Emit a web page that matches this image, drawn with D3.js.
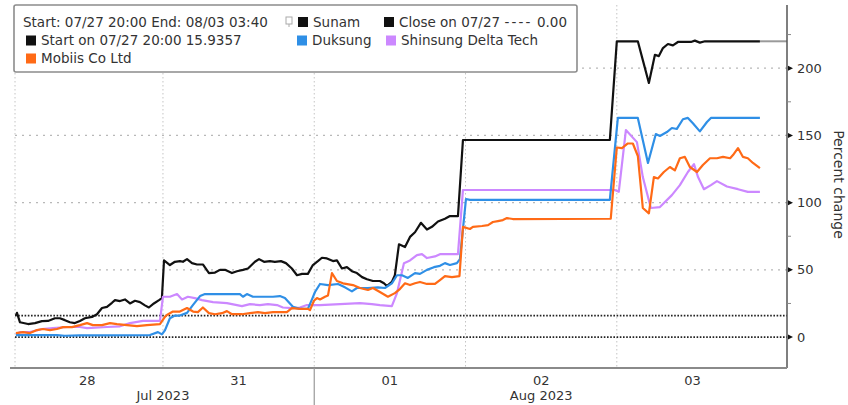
<!DOCTYPE html>
<html>
<head>
<meta charset="utf-8">
<script src="https://cdn.jsdelivr.net/npm/d3@7"></script>
<style>
  html, body { margin: 0; padding: 0; background: #fff; }
  svg { display: block; font-family: "DejaVu Sans", Verdana, sans-serif; }
</style>
</head>
<body>
<svg id="chart" width="848" height="405"></svg>
<script>
// time is in trading days since the chart start (28 Jul session = 0..1)
const dayLabels = ["28", "31", "01", "02", "03"];
const monthLabels = ["Jul 2023", "Aug 2023"];
const monthSpans = [[0, 2], [2, 5]];
const yTicks = [0, 50, 100, 150, 200];
const yMinor = [25, 75, 125, 175, 225];
const startValue = 15.9357;
const closeValue = 0;

const sunam = [[0.028,15.9],[0.035,18],[0.055,11],[0.108,9.7],[0.154,10.4],[0.2,11.9],[0.24,12],[0.286,14],[0.319,14],[0.352,12.6],[0.385,11],[0.418,10.4],[0.451,12],[0.484,14],[0.531,15],[0.564,17],[0.597,21.6],[0.63,22.5],[0.663,25.5],[0.683,27.5],[0.716,26.8],[0.749,28],[0.782,25],[0.815,27],[0.848,26],[0.881,23.6],[0.907,22],[0.94,25],[0.974,27.5],[0.993,29],[1.007,57],[1.046,53.6],[1.079,56],[1.112,56.5],[1.132,56],[1.159,58],[1.192,55],[1.225,54],[1.264,54],[1.304,47.6],[1.344,48],[1.377,50],[1.41,50],[1.456,47.6],[1.489,49],[1.529,50],[1.562,51],[1.608,56],[1.635,58],[1.668,56],[1.707,56.5],[1.74,56],[1.78,56.5],[1.813,55],[1.852,51],[1.886,46],[1.919,47],[1.958,47],[1.991,53.6],[2.024,56.5],[2.051,59],[2.084,58.5],[2.124,56.5],[2.15,57],[2.183,51],[2.216,52],[2.249,49],[2.282,47.6],[2.316,44.6],[2.349,43],[2.388,41.7],[2.434,41.7],[2.461,40],[2.48,38],[2.513,41],[2.533,46],[2.56,69],[2.6,67],[2.633,74.5],[2.666,78],[2.705,85],[2.745,80],[2.778,82],[2.818,86],[2.864,88],[2.897,90],[2.95,90],[2.983,146.6],[3.954,146.6],[4.0,220],[4.139,220],[4.172,206],[4.212,189],[4.252,210],[4.278,209],[4.305,215],[4.338,218],[4.371,217],[4.404,219.5],[4.49,219.5],[4.516,220.5],[4.549,219],[4.583,220],[4.946,220]];

const duksung = [[0.028,1.5],[0.3,1.5],[0.35,1],[0.45,1.2],[0.914,1.5],[0.967,3.7],[0.993,2],[1.013,5],[1.046,14],[1.079,16],[1.112,16],[1.159,18],[1.199,24],[1.245,30.5],[1.278,32],[1.509,32],[1.529,30],[1.555,32],[1.595,30],[1.727,30],[1.773,30.5],[1.806,29],[1.859,22.5],[1.905,21],[1.958,21],[1.985,28],[2.005,33.5],[2.038,39.5],[2.091,38.7],[2.157,39.5],[2.203,37],[2.249,34],[2.282,36.5],[2.355,36.5],[2.421,37],[2.467,36.5],[2.513,40],[2.547,46],[2.58,46],[2.619,44],[2.666,47.6],[2.699,47],[2.745,50],[2.791,52],[2.831,53],[2.864,55],[2.897,53.6],[2.943,55],[2.963,58],[3.003,102.7],[3.029,102],[3.954,102],[4.007,163],[4.139,163],[4.206,129.5],[4.258,151],[4.285,149.6],[4.331,152.5],[4.364,155.5],[4.397,154.8],[4.437,162],[4.47,163],[4.503,159],[4.549,153],[4.596,160],[4.622,163],[4.946,163]];

const shinsung = [[0.028,2],[0.055,3.7],[0.121,3.7],[0.2,6],[0.273,6.7],[0.366,7.5],[0.451,7.5],[0.498,6.7],[0.63,7.5],[0.716,8],[0.782,10.4],[0.868,12],[0.98,12],[1.0,30],[1.046,30],[1.093,32],[1.126,28],[1.165,30],[1.211,29],[1.258,27.5],[1.331,26],[1.423,25.3],[1.522,23],[1.575,24.5],[1.641,23.8],[1.694,24.5],[1.754,23.8],[1.793,22],[1.852,21.6],[1.905,22],[1.952,23.8],[2.038,23.8],[2.17,24.5],[2.302,25.3],[2.381,24.5],[2.434,23.8],[2.513,23],[2.547,32.7],[2.593,55],[2.633,57],[2.679,61],[2.712,61.7],[2.745,58.8],[2.798,60],[2.831,61.7],[2.95,61.7],[2.983,109.4],[3.987,109.4],[4.013,108],[4.06,154],[4.133,145],[4.172,119],[4.225,96],[4.285,96.7],[4.364,105.6],[4.417,113],[4.47,122.8],[4.51,128.7],[4.537,119],[4.576,110],[4.622,113],[4.662,116],[4.728,112],[4.801,110],[4.866,108],[4.946,108]];

const mobiis = [[0.028,3],[0.075,3.7],[0.121,3],[0.167,5.2],[0.207,6],[0.253,5.2],[0.299,6],[0.339,7.4],[0.399,7.4],[0.451,8.9],[0.498,10.4],[0.537,8.9],[0.597,8.9],[0.65,10.4],[0.696,9.7],[0.762,8.9],[0.828,8.2],[0.894,8.9],[0.98,9.7],[1.013,15],[1.026,16.4],[1.066,19],[1.112,19],[1.159,21.6],[1.199,19],[1.231,18.6],[1.264,22],[1.304,17.8],[1.344,17],[1.39,17.8],[1.423,19.3],[1.456,17],[1.522,17],[1.575,17.8],[1.628,18.6],[1.674,17.8],[1.727,18.6],[1.819,18.6],[1.852,21.6],[1.905,21],[1.958,21],[1.972,20],[1.998,27],[2.018,29],[2.038,28],[2.071,30],[2.091,31],[2.117,47.6],[2.15,41.7],[2.19,40],[2.256,38.7],[2.302,36.5],[2.355,35],[2.388,36.5],[2.434,33.5],[2.487,30],[2.533,32.7],[2.566,35.7],[2.6,40],[2.633,38.7],[2.666,40],[2.699,41],[2.745,39.5],[2.798,39.5],[2.831,42.4],[2.864,45.4],[2.91,44.6],[2.96,45.4],[2.983,82],[3.029,80.4],[3.049,82],[3.109,82.6],[3.149,83.3],[3.181,85.6],[3.214,86.3],[3.247,87],[3.274,88.5],[3.313,87.8],[3.96,88],[4.0,141],[4.034,140.6],[4.073,144],[4.106,144],[4.139,134.7],[4.172,96],[4.212,92],[4.245,119],[4.272,118],[4.311,122.8],[4.351,126.5],[4.384,124],[4.417,133],[4.45,134],[4.483,126.5],[4.53,122.8],[4.569,128],[4.616,133],[4.662,133],[4.702,134],[4.749,133],[4.768,135.4],[4.801,140.6],[4.834,134],[4.866,133],[4.9,129.5],[4.946,125.7]];

const series = [
  { name: "Sunam", color: "#111111", data: sunam },
  { name: "Shinsung Delta Tech", color: "#cc88ff", data: shinsung },
  { name: "Duksung", color: "#2f8fe6", data: duksung },
  { name: "Mobiis Co Ltd", color: "#ff6a16", data: mobiis },
];

const svg = d3.select("#chart");
const plotL = 15, plotR = 787, plotT = 5, plotB = 368;

const x = d3.scaleLinear().domain([0.022, 5.125]).range([plotL, plotR]);
const y = d3.scaleLinear().domain([-23, 247]).range([plotB, plotT]);

// gridlines
svg.append("g")
  .selectAll("line")
  .data(yTicks.filter((d) => d > 0))
  .enter()
  .append("line")
  .attr("x1", plotL).attr("x2", plotR)
  .attr("y1", (d) => y(d)).attr("y2", (d) => y(d))
  .attr("stroke", "#b8b8b8")
  .attr("stroke-width", 1.2)
  .attr("stroke-dasharray", "2,5");

svg.append("g")
  .selectAll("line")
  .data([0.022, 1, 2, 3, 4])
  .enter()
  .append("line")
  .attr("x1", (d) => x(d)).attr("x2", (d) => x(d))
  .attr("y1", plotT).attr("y2", plotB)
  .attr("stroke", "#c4c4c4")
  .attr("stroke-width", 1)
  .attr("stroke-dasharray", "1.5,2.5");

// start and close reference lines
svg.append("g")
  .selectAll("line")
  .data([startValue, closeValue])
  .enter()
  .append("line")
  .attr("x1", plotL).attr("x2", plotR)
  .attr("y1", (d) => y(d)).attr("y2", (d) => y(d))
  .attr("stroke", "#222")
  .attr("stroke-width", 1.8)
  .attr("stroke-dasharray", "1.6,1.6");

// lines
const line = d3.line().x((d) => x(d[0])).y((d) => y(d[1]));

// gray extension of the last Sunam value to the axis
const last = sunam[sunam.length - 1];
svg.append("line")
  .attr("x1", x(last[0])).attr("x2", plotR)
  .attr("y1", y(last[1])).attr("y2", y(last[1]))
  .attr("stroke", "#9a9a9a")
  .attr("stroke-width", 2);

svg.append("g")
  .selectAll("path")
  .data(series)
  .enter()
  .append("path")
  .attr("d", (d) => line(d.data))
  .attr("fill", "none")
  .attr("stroke", (d) => d.color)
  .attr("stroke-width", 2.2)
  .attr("stroke-linejoin", "round");

// right axis
svg.append("line")
  .attr("x1", plotR).attr("x2", plotR)
  .attr("y1", plotT).attr("y2", plotB)
  .attr("stroke", "#555").attr("stroke-width", 1.5);

svg.append("g")
  .selectAll("line")
  .data(yMinor)
  .enter()
  .append("line")
  .attr("x1", plotR).attr("x2", plotR + 4)
  .attr("y1", (d) => y(d)).attr("y2", (d) => y(d))
  .attr("stroke", "#888").attr("stroke-width", 1);

const yt = svg.append("g").selectAll("g").data(yTicks).enter().append("g")
  .attr("transform", (d) => `translate(${plotR},${y(d)})`);
yt.append("path").attr("d", "M1,-2.5L6,0L1,2.5Z").attr("fill", "#111");
yt.append("text")
  .attr("x", 10).attr("dy", "0.35em")
  .attr("font-size", 13).attr("fill", "#333")
  .text((d) => d);

svg.append("text")
  .attr("transform", `translate(834,${(plotT + plotB) / 2 - 2}) rotate(90)`)
  .attr("text-anchor", "middle")
  .attr("font-size", 14).attr("fill", "#333")
  .text("Percent change");

// bottom axis
svg.append("line")
  .attr("x1", 10).attr("x2", plotR)
  .attr("y1", plotB).attr("y2", plotB)
  .attr("stroke", "#8a8a8a").attr("stroke-width", 2.2);

svg.append("line")
  .attr("x1", x(2)).attr("x2", x(2))
  .attr("y1", plotB).attr("y2", 405)
  .attr("stroke", "#999").attr("stroke-width", 1.2);

svg.append("g")
  .selectAll("text")
  .data(dayLabels)
  .enter()
  .append("text")
  .attr("x", (d, i) => x(i + 0.5))
  .attr("y", 385)
  .attr("text-anchor", "middle")
  .attr("font-size", 13).attr("fill", "#333")
  .text((d) => d);

svg.append("g")
  .selectAll("text")
  .data(monthLabels)
  .enter()
  .append("text")
  .attr("x", (d, i) => x((monthSpans[i][0] + monthSpans[i][1]) / 2))
  .attr("y", 400)
  .attr("text-anchor", "middle")
  .attr("font-size", 13).attr("fill", "#333")
  .text((d) => d);

// legend
const lg = svg.append("g");
lg.append("rect")
  .attr("x", 14).attr("y", 5).attr("width", 563).attr("height", 67)
  .attr("rx", 2)
  .attr("fill", "#fff").attr("stroke", "#8c8c8c").attr("stroke-width", 1.6);

const legendItems = [
  { text: "Start: 07/27 20:00 End: 08/03 03:40", col: 23, row: 0 },
  { text: "Sunam", color: "#111", col: 298, row: 0 },
  { text: "Close on 07/27 ", tail: "0.00", color: "#111", col: 384, row: 0 },
  { text: "Start on 07/27 20:00 15.9357", color: "#111", col: 26, row: 1 },
  { text: "Duksung", color: "#2f8fe6", col: 297, row: 1 },
  { text: "Shinsung Delta Tech", color: "#cc88ff", col: 386, row: 1 },
  { text: "Mobiis Co Ltd", color: "#ff6a16", col: 26, row: 2 },
];
const rowY = [22, 40.5, 58.5];

const li = lg.selectAll("g.item").data(legendItems).enter().append("g")
  .attr("transform", (d) => `translate(${d.col},${rowY[d.row]})`);
li.filter((d) => d.color)
  .append("rect")
  .attr("x", 0).attr("y", -5).attr("width", 10).attr("height", 10)
  .attr("fill", (d) => d.color);
const lt = li.append("text")
  .attr("x", (d) => (d.color ? 15 : 0))
  .attr("dy", "0.36em")
  .attr("font-size", 13.5).attr("fill", "#333")
  .text((d) => d.text);
lt.filter((d) => d.tail)
  .append("tspan").attr("letter-spacing", 2.2).text("----");
lt.filter((d) => d.tail)
  .append("tspan").text((d) => " " + d.tail);

// small collapse icon before Sunam
lg.append("rect")
  .attr("x", 286).attr("y", rowY[0] - 5).attr("width", 6).attr("height", 7)
  .attr("fill", "none").attr("stroke", "#aaa").attr("stroke-width", 1);
lg.append("line")
  .attr("x1", 289).attr("x2", 289).attr("y1", rowY[0] + 2).attr("y2", rowY[0] + 5)
  .attr("stroke", "#aaa");
</script>
</body>
</html>
